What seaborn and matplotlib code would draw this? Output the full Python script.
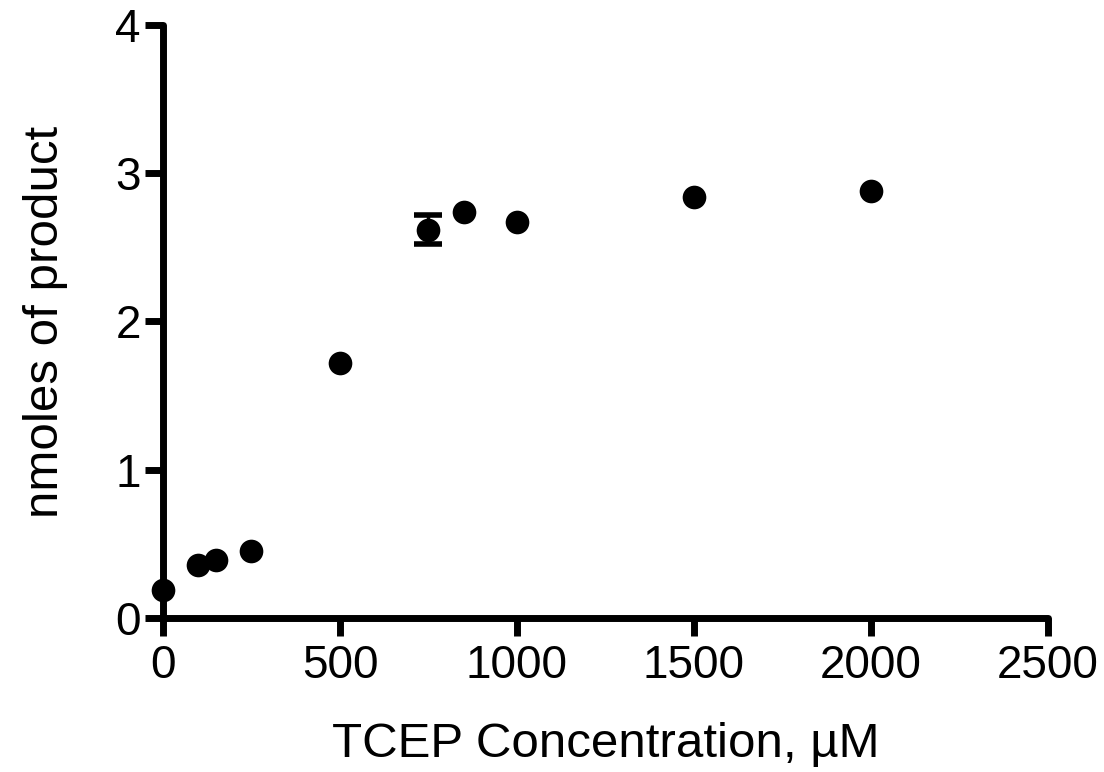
import matplotlib
matplotlib.use("Agg")
import matplotlib.pyplot as plt
import seaborn as sns
import pandas as pd

tcep_uM = [0, 100, 150, 250, 500, 750, 850, 1000, 1500, 2000]
nmoles = [0.19, 0.36, 0.39, 0.45, 1.72, 2.62, 2.74, 2.67, 2.84, 2.88]
sem = [0, 0, 0, 0, 0, 0.10, 0, 0, 0, 0]
x_ticks = [0, 500, 1000, 1500, 2000, 2500]
y_ticks = [0, 1, 2, 3, 4]

sns.set_theme(style="ticks")
plt.rcParams['font.family'] = ['Liberation Sans', 'DejaVu Sans']

df = pd.DataFrame({"x": tcep_uM, "y": nmoles, "err": sem})

fig = plt.figure(figsize=(11.04, 7.72), dpi=100)
ax = fig.add_axes([0.1476, 0.1995, 0.9493 - 0.1476, 0.9676 - 0.1995])

err_df = df[df["err"] > 0]
ax.errorbar(err_df["x"], err_df["y"], yerr=err_df["err"], fmt="none",
            ecolor="black", elinewidth=2.5, capsize=10, capthick=4,
            clip_on=False, zorder=4)
sns.scatterplot(data=df, x="x", y="y", ax=ax, color="black", s=290,
                edgecolor="black", linewidth=0, clip_on=False, zorder=5)

ax.set_xlim(0, 2500)
ax.set_ylim(0, 4)
ax.set_xticks(x_ticks)
ax.set_yticks(y_ticks)
ax.set_xticklabels([str(v) for v in x_ticks])
ax.set_yticklabels([str(v) for v in y_ticks])

for side in ["top", "right"]:
    ax.spines[side].set_visible(False)
for side in ["left", "bottom"]:
    ax.spines[side].set_linewidth(5)
    ax.spines[side].set_color("black")
    ax.spines[side].set_capstyle("round")

ax.tick_params(axis="both", direction="out", length=13, width=5,
               color="black", labelsize=33, labelcolor="black")
ax.tick_params(axis="x", pad=6)
ax.tick_params(axis="y", pad=3)
for t in ax.xaxis.get_ticklines() + ax.yaxis.get_ticklines():
    t.set_solid_capstyle("round")

ax.set_xlabel("TCEP Concentration, µM", fontsize=35.5, labelpad=24, color="black")
ax.set_ylabel("nmoles of product", fontsize=35.5, labelpad=34, color="black")

fig.savefig("out.png", dpi=100, facecolor="white")
